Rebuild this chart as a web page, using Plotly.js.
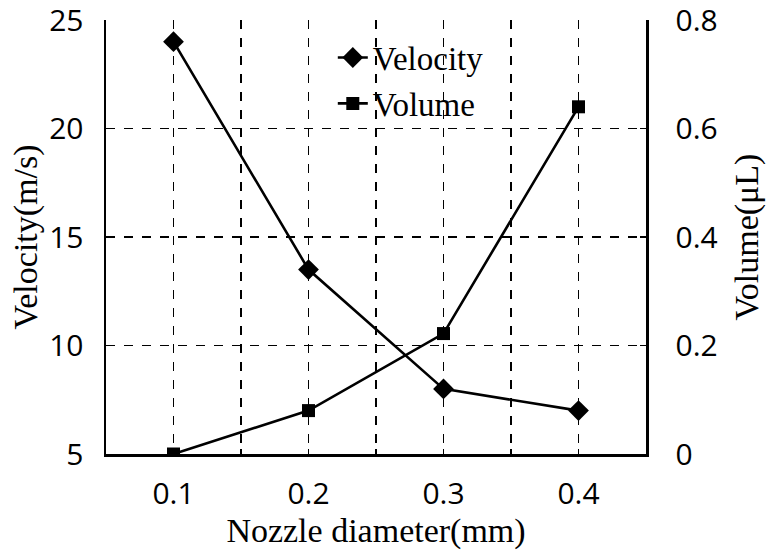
<!DOCTYPE html>
<html>
<head>
<meta charset="utf-8">
<script src="https://cdn.plot.ly/plotly-3.0.1.min.js"></script>
<style>html,body{margin:0;padding:0;background:#fff;}#chart{width:768px;height:552px;}</style>
</head>
<body>
<div id="chart"></div>
<script>
const nozzleDiameter = [0.1, 0.2, 0.3, 0.4];
const velocity = [24, 13.5, 8, 7];
const volume = [0, 0.08, 0.222, 0.64];
const xTickVals = [0.05, 0.1, 0.15, 0.2, 0.25, 0.3, 0.35, 0.4, 0.45];
const xTickText = ['', '0.1', '', '0.2', '', '0.3', '', '0.4', ''];

const serif = 'Liberation Serif, serif';
const sans = 'Open Sans, sans-serif';

const traces = [
  {
    x: nozzleDiameter, y: velocity, name: 'Velocity', type: 'scatter', mode: 'lines+markers',
    line: {color: '#000', width: 2.6},
    marker: {symbol: 'diamond', size: 16, color: '#000'},
    yaxis: 'y'
  },
  {
    x: nozzleDiameter, y: volume, name: 'Volume', type: 'scatter', mode: 'lines+markers',
    line: {color: '#000', width: 2.6},
    marker: {symbol: 'square', size: 13, color: '#000'},
    yaxis: 'y2'
  }
];

const layout = {
  width: 768, height: 552,
  margin: {l: 106, r: 122, t: 20, b: 98},
  paper_bgcolor: '#fff', plot_bgcolor: '#fff',
  showlegend: true,
  legend: {
    x: 0.42, y: 0.978, xanchor: 'left', yanchor: 'top',
    bgcolor: 'rgba(0,0,0,0)', borderwidth: 0,
    font: {family: serif, size: 33, color: '#000'},
    tracegroupgap: 0
  },
  xaxis: {
    range: [0.05, 0.45],
    tickmode: 'array', tickvals: xTickVals, ticktext: xTickText,
    showgrid: true, gridcolor: '#000', gridwidth: 1.5, griddash: 'dash',
    showline: true, linecolor: '#000', linewidth: 2.5,
    ticks: 'inside', ticklen: 5, tickcolor: '#000', tickwidth: 1.5,
    zeroline: false,
    ticklabelstandoff: 11,
    ticklabeloverflow: 'allow',
    tickfont: {family: sans, size: 30, color: '#000'},
    title: {text: 'Nozzle diameter(mm)', font: {family: serif, size: 34, color: '#000'}, standoff: 0}
  },
  yaxis: {
    range: [5, 25], dtick: 5, tick0: 5,
    showgrid: true, gridcolor: '#000', gridwidth: 1.5, griddash: 'dash',
    showline: true, linecolor: '#000', linewidth: 2.5,
    ticks: 'inside', ticklen: 5, tickcolor: '#000', tickwidth: 1.5,
    zeroline: false,
    ticklabelstandoff: 14,
    ticklabeloverflow: 'allow',
    tickfont: {family: sans, size: 30, color: '#000'},
    title: {text: 'Velocity(m/s)', font: {family: serif, size: 34, color: '#000'}, standoff: 2}
  },
  yaxis2: {
    overlaying: 'y', side: 'right',
    range: [0, 0.8], dtick: 0.2, tick0: 0,
    showgrid: false,
    showline: true, linecolor: '#000', linewidth: 2.5,
    ticks: 'inside', ticklen: 6, tickcolor: '#000', tickwidth: 1.5,
    zeroline: false,
    ticklabelstandoff: 21,
    ticklabeloverflow: 'allow',
    tickfont: {family: sans, size: 30, color: '#000'},
    title: {text: 'Volume(μL)', font: {family: serif, size: 34, color: '#000'}, standoff: 18}
  }
};

Plotly.newPlot('chart', traces, layout, {displayModeBar: false, staticPlot: true});
</script>
</body>
</html>
